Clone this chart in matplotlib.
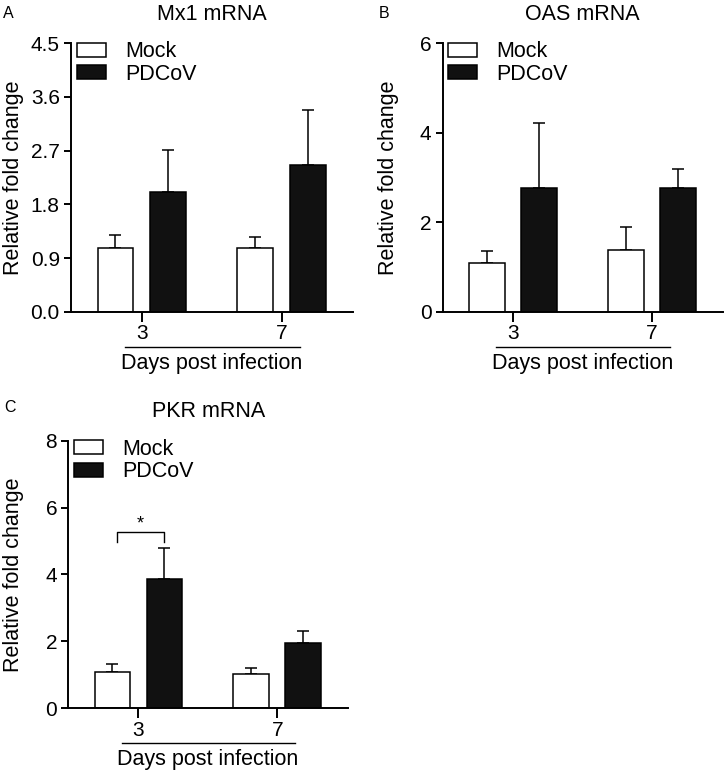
import matplotlib
matplotlib.use("Agg")
import matplotlib.pyplot as plt
import matplotlib.transforms as mtransforms
import numpy as np

plt.rcParams['font.family'] = ['Liberation Sans', 'DejaVu Sans']

days = ["3", "7"]
groups = ["Mock", "PDCoV"]

mx1_mock = [1.07, 1.06]
mx1_mock_err = [0.21, 0.19]
mx1_pdcov = [2.0, 2.46]
mx1_pdcov_err = [0.71, 0.93]

oas_mock = [1.10, 1.38]
oas_mock_err = [0.25, 0.51]
oas_pdcov = [2.77, 2.76]
oas_pdcov_err = [1.44, 0.43]

pkr_mock = [1.08, 1.03]
pkr_mock_err = [0.24, 0.16]
pkr_pdcov = [3.87, 1.94]
pkr_pdcov_err = [0.91, 0.38]

W, H = 725, 775
panels = [
    dict(letter="A", title="Mx1 mRNA", mock=mx1_mock, mock_err=mx1_mock_err,
         pdcov=mx1_pdcov, pdcov_err=mx1_pdcov_err, ymax=4.5,
         yticks=[0.0, 0.9, 1.8, 2.7, 3.6, 4.5], fmt="{:.1f}",
         rect=[0.0979, 0.5978, 0.389, 0.3463], letter_px=(3, 13), ylx=-0.168),
    dict(letter="B", title="OAS mRNA", mock=oas_mock, mock_err=oas_mock_err,
         pdcov=oas_pdcov, pdcov_err=oas_pdcov_err, ymax=6,
         yticks=[0, 2, 4, 6], fmt="{:d}",
         rect=[0.6106, 0.5978, 0.3862, 0.3463], letter_px=(379, 13), ylx=-0.156),
    dict(letter="C", title="PKR mRNA", mock=pkr_mock, mock_err=pkr_mock_err,
         pdcov=pkr_pdcov, pdcov_err=pkr_pdcov_err, ymax=8,
         yticks=[0, 2, 4, 6, 8], fmt="{:d}",
         rect=[0.0942, 0.0861, 0.3858, 0.3453], letter_px=(4, 407), ylx=-0.158),
]

fig = plt.figure(figsize=(W / 100, H / 100), dpi=100)

width = 0.257
offset = 0.187
lw = 1.4
fs = 15.5
tfs = 15

for p in panels:
    ax = fig.add_axes(p["rect"])
    x = np.arange(len(days))
    ax.bar(x - offset, p["mock"], width, color="white", edgecolor="black",
           linewidth=1.1, label=groups[0], zorder=2)
    ax.bar(x + offset, p["pdcov"], width, color="#111111", edgecolor="black",
           linewidth=1.1, label=groups[1], zorder=2)
    ax.errorbar(x - offset, p["mock"], yerr=[np.zeros(2), p["mock_err"]],
                fmt="none", ecolor="black", elinewidth=1.1, capsize=4,
                capthick=1.1, zorder=1)
    ax.errorbar(x + offset, p["pdcov"], yerr=[np.zeros(2), p["pdcov_err"]],
                fmt="none", ecolor="black", elinewidth=1.1, capsize=4,
                capthick=1.1, zorder=1)
    ax.set_xlim(-0.505, 1.51)
    ax.set_ylim(0, p["ymax"])
    ax.set_yticks(p["yticks"])
    ax.set_yticklabels([p["fmt"].format(v) for v in p["yticks"]])
    ax.set_xticks(x)
    ax.set_xticklabels(days)
    for s in ["top", "right"]:
        ax.spines[s].set_visible(False)
    for s in ["left", "bottom"]:
        ax.spines[s].set_linewidth(lw)
    ax.tick_params(axis="y", length=5, width=lw, pad=3, labelsize=tfs)
    ax.tick_params(axis="x", length=7, width=lw, pad=2, labelsize=tfs)
    ax.set_ylabel("Relative fold change", fontsize=fs)
    ax.yaxis.set_label_coords(p["ylx"], 0.5)
    ax.set_title(p["title"], fontsize=fs, pad=17)

    trans = mtransforms.blended_transform_factory(ax.transData, ax.transAxes)
    ax.plot([-0.12, 1.13], [-0.13, -0.13], color="black", lw=1.0,
            transform=trans, clip_on=False)
    ax.text(0.5, -0.213, "Days post infection", transform=trans,
            ha="center", va="baseline", fontsize=fs)

    ax.legend(loc="upper left", bbox_to_anchor=(0.02, 1.008), frameon=False,
              fontsize=fs, handlelength=1.35, handleheight=0.62,
              handletextpad=0.9, labelspacing=0.08, borderpad=0,
              borderaxespad=0)

    lx, ly = p["letter_px"]
    fig.text(lx / W, 1 - ly / H, p["letter"], fontsize=11.5,
             ha="left", va="center")

    if p["letter"] == "C":
        ax.plot([-0.155, -0.155, 0.187, 0.187], [4.98, 5.26, 5.26, 4.98],
                color="black", lw=1.0)
        ax.text(0.015, 5.25, "*", ha="center", va="bottom", fontsize=13)

fig.savefig("out.png", dpi=100)
